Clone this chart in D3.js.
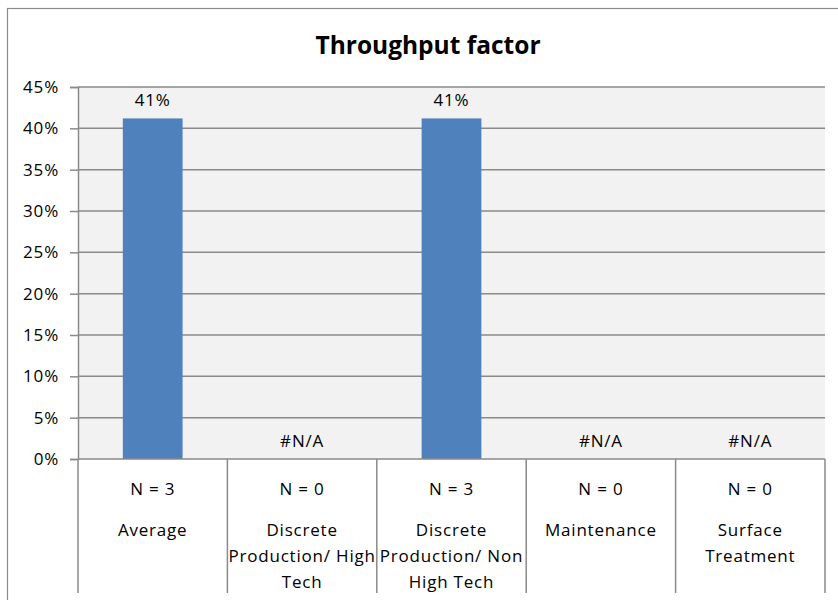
<!DOCTYPE html>
<html>
<head>
<meta charset="utf-8">
<script src="https://cdn.jsdelivr.net/npm/d3@7/dist/d3.min.js"></script>
<style>
  html, body { margin: 0; padding: 0; background: #fff; }
  svg { display: block; font-family: "Open Sans", Lato, sans-serif; }
  .lbl { letter-spacing: 0.8px; }
</style>
</head>
<body>
<svg id="chart" width="838" height="600"></svg>
<script>
// Chart data
const title = "Throughput factor";
const categories = [
  "Average",
  "Discrete\nProduction/ High\nTech",
  "Discrete\nProduction/ Non\nHigh Tech",
  "Maintenance",
  "Surface\nTreatment"
];
const sampleSizes = [3, 0, 3, 0, 0];
const values = [0.412, null, 0.412, null, null];
const yTicks = [0, 0.05, 0.10, 0.15, 0.20, 0.25, 0.30, 0.35, 0.40, 0.45];

const svg = d3.select("#chart");
const W = 838, H = 600;
const plot = { left: 78, right: 825, top: 87, bottom: 459 };
const FS = 17;

// outer chart frame
svg.append("rect")
  .attr("x", 7.5).attr("y", 8.5)
  .attr("width", W + 10).attr("height", H + 10)
  .attr("fill", "#fff").attr("stroke", "#8a8a8a").attr("stroke-width", 1.2);

svg.append("text")
  .attr("x", 428).attr("y", 54)
  .attr("text-anchor", "middle")
  .attr("font-size", 24.5).attr("font-weight", "bold")
  .attr("fill", "#000")
  .text(title);

const x = d3.scaleBand()
  .domain(d3.range(categories.length))
  .range([plot.left, plot.right])
  .paddingInner(0).paddingOuter(0);

const y = d3.scaleLinear().domain([0, 0.45]).range([plot.bottom, plot.top]);

// plot background
svg.append("rect")
  .attr("x", plot.left).attr("y", plot.top)
  .attr("width", plot.right - plot.left).attr("height", plot.bottom - plot.top)
  .attr("fill", "#f2f2f2");

// y axis with tick marks outside the plot
const yAxis = d3.axisLeft(y)
  .tickValues(yTicks)
  .tickFormat(d3.format(".0%"))
  .tickSize(8)
  .tickPadding(11);

const yg = svg.append("g")
  .attr("transform", `translate(${plot.left},0)`)
  .call(yAxis);
yg.select(".domain").attr("stroke", "#8a8a8a").attr("stroke-width", 1.5);
yg.selectAll(".tick line").attr("stroke", "#8a8a8a").attr("stroke-width", 1.5);
yg.selectAll(".tick text").attr("font-size", FS).attr("fill", "#000")
  .attr("class", "lbl")
  .attr("font-family", "'Open Sans', sans-serif");

// horizontal gridlines
svg.append("g").selectAll("line")
  .data(yTicks.filter(t => t > 0))
  .join("line")
  .attr("x1", plot.left).attr("x2", plot.right)
  .attr("y1", d => y(d)).attr("y2", d => y(d))
  .attr("stroke", "#8a8a8a").attr("stroke-width", 1.5);

// bars
const barW = x.bandwidth() * 0.4;
svg.append("g").selectAll("rect")
  .data(values.map((v, i) => ({ v, i })).filter(d => d.v !== null))
  .join("rect")
  .attr("x", d => x(d.i) + (x.bandwidth() - barW) / 2)
  .attr("y", d => y(d.v))
  .attr("width", barW)
  .attr("height", d => y(0) - y(d.v))
  .attr("fill", "#4f81bd");

// value labels (missing values shown as #N/A at the baseline)
svg.append("g").selectAll("text")
  .data(values.map((v, i) => ({ v, i })))
  .join("text")
  .attr("class", "lbl")
  .attr("x", d => x(d.i) + x.bandwidth() / 2)
  .attr("y", d => (d.v === null ? y(0) : y(d.v)) - 12)
  .attr("text-anchor", "middle")
  .attr("font-size", FS).attr("fill", "#000")
  .text(d => d.v === null ? "#N/A" : d3.format(".0%")(d.v));

// x axis line and category dividers
svg.append("line")
  .attr("x1", plot.left).attr("x2", plot.right)
  .attr("y1", y(0)).attr("y2", y(0))
  .attr("stroke", "#8a8a8a").attr("stroke-width", 1.5);

const edges = d3.range(categories.length).map(i => x(i)).concat([plot.right]);
svg.append("g").selectAll("line")
  .data(edges)
  .join("line")
  .attr("x1", d => d).attr("x2", d => d)
  .attr("y1", plot.bottom).attr("y2", 593)
  .attr("stroke", "#8a8a8a").attr("stroke-width", 1.5);

// category labels: sample size line, then the wrapped category name
const lab = svg.append("g").attr("font-size", FS).attr("fill", "#000").attr("text-anchor", "middle");
categories.forEach((c, i) => {
  const cx = x(i) + x.bandwidth() / 2;
  lab.append("text").attr("class", "lbl").attr("x", cx).attr("y", 495).text(`N = ${sampleSizes[i]}`);
  c.split("\n").forEach((line, j) => {
    lab.append("text").attr("class", "lbl").attr("x", cx).attr("y", 536 + j * 26).text(line);
  });
});
</script>
</body>
</html>
